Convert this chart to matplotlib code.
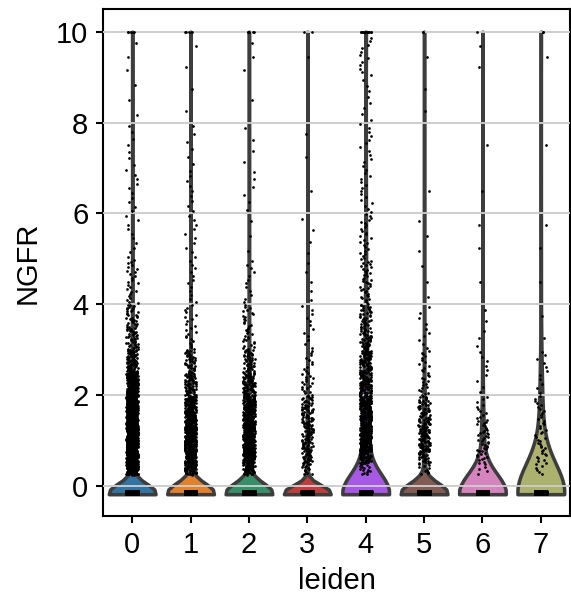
import numpy as np
import pandas as pd
import matplotlib
matplotlib.use("Agg")
import matplotlib.pyplot as plt
import seaborn as sns

# leiden clusters and their colours (scanpy default palette)
clusters = ["0", "1", "2", "3", "4", "5", "6", "7"]
colors = ["#1f77b4", "#ff7f0e", "#279e68", "#d62728",
          "#aa40fc", "#8c564b", "#e377c2", "#b5bd61"]

# scaled value of non-expressing cells, and how many of them per cluster
zero_levels = [-0.18, -0.16, -0.14, -0.12]
zero_counts = [3500, 2500, 2300, 2000, 2000, 1200, 700, 400]

# cells clipped at max_value=10
clipped_counts = [6, 5, 6, 2, 15, 2, 1, 2]

# histogram of the expressing cells
bin_edges = [0.25, 0.5, 0.75, 1.0, 1.25, 1.5, 1.75, 2.0, 2.5, 3.0,
             3.5, 4.0, 5.0, 6.0, 7.0, 8.0, 9.0, 9.9]
counts_0 = [150, 200, 220, 220, 200, 170, 140, 180, 100, 45, 30, 25, 10, 10, 7, 3, 3]
counts_1 = [50, 80, 90, 90, 85, 75, 60, 70, 40, 12, 10, 12, 10, 9, 6, 2, 2]
counts_2 = [60, 90, 100, 100, 95, 85, 70, 80, 50, 20, 15, 12, 3, 6, 4, 1, 3]
counts_3 = [15, 25, 30, 30, 28, 25, 20, 18, 10, 6, 6, 5, 4, 1, 2, 0, 1]
counts_4 = [15, 60, 90, 90, 85, 75, 70, 90, 70, 45, 35, 40, 25, 15, 12, 8, 12]
counts_5 = [10, 25, 35, 35, 30, 25, 20, 15, 12, 6, 4, 3, 3, 1, 0, 2, 1]
counts_6 = [5, 10, 12, 12, 10, 6, 4, 4, 5, 3, 2, 1, 2, 1, 1, 0, 2]
counts_7 = [6, 8, 8, 7, 6, 6, 5, 5, 6, 1, 1, 1, 2, 0, 1, 0, 1]
hist_counts = [counts_0, counts_1, counts_2, counts_3,
               counts_4, counts_5, counts_6, counts_7]

# kde smoothing per violin
bw_adjust = [1.0, 1.0, 1.0, 1.0, 1.25, 1.0, 1.7, 1.9]


def cluster_values(i):
    vals = []
    nz = zero_counts[i] // len(zero_levels)
    for z in zero_levels:
        vals += [z] * nz
    for lo, hi, n in zip(bin_edges[:-1], bin_edges[1:], hist_counts[i]):
        if n:
            step = (hi - lo) / n
            vals += list(lo + step * (np.arange(n) + 0.5))
    vals += [10.0] * clipped_counts[i]
    return vals


rows = []
for i, c in enumerate(clusters):
    for v in cluster_values(i):
        rows.append((c, v))
df = pd.DataFrame(rows, columns=["leiden", "NGFR"])
df["leiden"] = pd.Categorical(df["leiden"], categories=clusters)

plt.rcParams["font.family"] = ["Liberation Sans", "DejaVu Sans"]
plt.rcParams["font.size"] = 14

fig = plt.figure(figsize=(571 / 150, 605 / 150), dpi=150)
ax = fig.add_axes([103 / 571, 89 / 605, 467 / 571, 507 / 605])

for i, c in enumerate(clusters):
    sub = df[df["leiden"] == c]
    sns.violinplot(data=sub, x="leiden", y="NGFR", order=clusters,
                   color=colors[i], density_norm="width", cut=0, inner=None,
                   linewidth=1.7, linecolor="#3d3d3d", bw_adjust=bw_adjust[i],
                   ax=ax)

np.random.seed(0)
sns.stripplot(data=df, x="leiden", y="NGFR", order=clusters, color="black",
              size=1.3, jitter=True, ax=ax)

ax.set_xlim(-0.5, 7.5)
ax.set_ylim(-0.66, 10.5)
ax.set_yticks([0, 2, 4, 6, 8, 10])
ax.yaxis.grid(True, color="#cccccc", linewidth=0.9)
ax.xaxis.grid(False)
ax.set_axisbelow(False)
for s in ax.spines.values():
    s.set_linewidth(1.0)
    s.set_color("black")
ax.tick_params(labelsize=14, length=3.5, width=1.0)
ax.set_xlabel("leiden", fontsize=14)
ax.set_ylabel("NGFR", fontsize=14, labelpad=7)

fig.savefig("out.png", dpi=150)
